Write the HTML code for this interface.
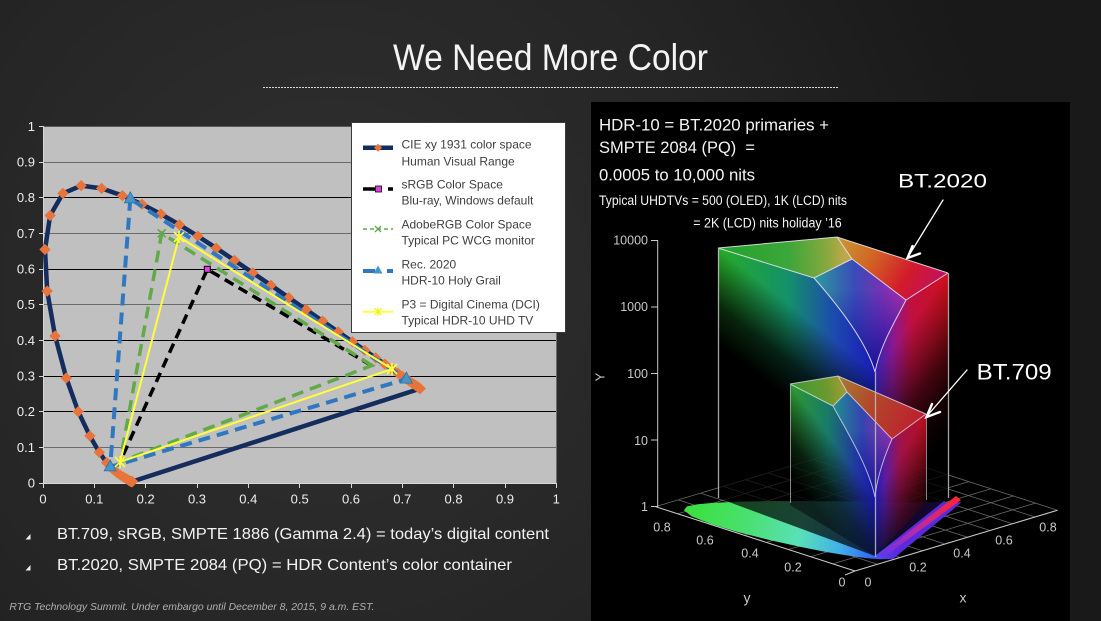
<!DOCTYPE html>
<html><head><meta charset="utf-8"><style>
html,body{margin:0;padding:0;background:#1c1c1c;}
svg{display:block;}
text{font-family:"Liberation Sans",Arial,sans-serif;}
</style></head><body>
<svg width="1101" height="621" viewBox="0 0 1101 621" xmlns="http://www.w3.org/2000/svg">
<defs>
<radialGradient id="bg" cx="330" cy="290" r="680" gradientUnits="userSpaceOnUse">
<stop offset="0" stop-color="#313131"/><stop offset="0.6" stop-color="#252525"/><stop offset="1" stop-color="#191919"/>
</radialGradient>
<path id="dm" d="M0 0.0157L0.0111 0L0 -0.0157L-0.0111 0Z" fill="#e8743b"/>

<linearGradient id="hL" gradientUnits="userSpaceOnUse" x1="718" y1="0" x2="875" y2="0">
<stop offset="0" stop-color="#26ac26"/><stop offset="0.45" stop-color="#14906a"/><stop offset="0.75" stop-color="#1c48b0"/><stop offset="1" stop-color="#1a1ab4"/>
</linearGradient>
<linearGradient id="fL" gradientUnits="userSpaceOnUse" x1="796.5" y1="310" x2="750" y2="368.9">
<stop offset="0" stop-color="#fff"/><stop offset="0.3" stop-color="#999"/><stop offset="0.6" stop-color="#3a3a3a"/><stop offset="1" stop-color="#000"/>
</linearGradient>
<mask id="mL" maskUnits="userSpaceOnUse" x="600" y="200" width="500" height="400"><rect x="600" y="200" width="500" height="400" fill="url(#fL)"/></mask>

<linearGradient id="hR" gradientUnits="userSpaceOnUse" x1="948" y1="0" x2="875" y2="0">
<stop offset="0" stop-color="#d0101c"/><stop offset="0.5" stop-color="#c01040"/><stop offset="0.75" stop-color="#8a1890"/><stop offset="1" stop-color="#3020b0"/>
</linearGradient>
<linearGradient id="fR" gradientUnits="userSpaceOnUse" x1="911.5" y1="322.5" x2="988" y2="378.8">
<stop offset="0" stop-color="#fff"/><stop offset="0.25" stop-color="#b0b0b0"/><stop offset="0.5" stop-color="#555"/><stop offset="0.75" stop-color="#1a1a1a"/><stop offset="1" stop-color="#000"/>
</linearGradient>
<mask id="mR" maskUnits="userSpaceOnUse" x="600" y="200" width="500" height="400"><rect x="600" y="200" width="500" height="400" fill="url(#fR)"/></mask>

<linearGradient id="gG1" gradientUnits="userSpaceOnUse" x1="718" y1="250" x2="845" y2="245">
<stop offset="0" stop-color="#22a22a"/><stop offset="0.55" stop-color="#3ca63a"/><stop offset="0.85" stop-color="#86a83e"/><stop offset="1" stop-color="#c0a84a"/>
</linearGradient>
<linearGradient id="gR1" gradientUnits="userSpaceOnUse" x1="837" y1="240" x2="935" y2="295">
<stop offset="0" stop-color="#c89a32"/><stop offset="0.35" stop-color="#d26424"/><stop offset="0.7" stop-color="#d21a2a"/><stop offset="1" stop-color="#c01060"/>
</linearGradient>
<linearGradient id="gB1" gradientUnits="userSpaceOnUse" x1="814" y1="0" x2="906" y2="0">
<stop offset="0" stop-color="#2a9c9c"/><stop offset="0.45" stop-color="#3a4ab8"/><stop offset="0.75" stop-color="#7a30b4"/><stop offset="1" stop-color="#b02ca4"/>
</linearGradient>
<linearGradient id="gB1v" gradientUnits="userSpaceOnUse" x1="0" y1="290" x2="0" y2="372">
<stop offset="0" stop-color="#1010a0" stop-opacity="0"/><stop offset="1" stop-color="#0c0c90" stop-opacity="0.9"/>
</linearGradient>

<linearGradient id="hL7" gradientUnits="userSpaceOnUse" x1="790" y1="0" x2="875" y2="0">
<stop offset="0" stop-color="#2e9a2e"/><stop offset="0.45" stop-color="#187a6a"/><stop offset="0.8" stop-color="#2034a4"/><stop offset="1" stop-color="#1818a8"/>
</linearGradient>
<linearGradient id="fL7" gradientUnits="userSpaceOnUse" x1="832.5" y1="440.5" x2="788.6" y2="473.6">
<stop offset="0" stop-color="#fff"/><stop offset="0.3" stop-color="#999"/><stop offset="0.6" stop-color="#3a3a3a"/><stop offset="1" stop-color="#000"/>
</linearGradient>
<mask id="mL7" maskUnits="userSpaceOnUse" x="600" y="200" width="500" height="400"><rect x="600" y="200" width="500" height="400" fill="url(#fL7)"/></mask>
<linearGradient id="hR7" gradientUnits="userSpaceOnUse" x1="926" y1="0" x2="875" y2="0">
<stop offset="0" stop-color="#b8101e"/><stop offset="0.5" stop-color="#a01248"/><stop offset="0.8" stop-color="#5a1ca0"/><stop offset="1" stop-color="#1c1cb0"/>
</linearGradient>
<linearGradient id="fR7" gradientUnits="userSpaceOnUse" x1="900.5" y1="455.5" x2="955.9" y2="489.6">
<stop offset="0" stop-color="#fff"/><stop offset="0.25" stop-color="#b0b0b0"/><stop offset="0.5" stop-color="#555"/><stop offset="0.75" stop-color="#1a1a1a"/><stop offset="1" stop-color="#000"/>
</linearGradient>
<mask id="mR7" maskUnits="userSpaceOnUse" x="600" y="200" width="500" height="400"><rect x="600" y="200" width="500" height="400" fill="url(#fR7)"/></mask>
<linearGradient id="gG17" gradientUnits="userSpaceOnUse" x1="790" y1="384" x2="840" y2="376">
<stop offset="0" stop-color="#3a9a30"/><stop offset="0.7" stop-color="#6a9a30"/><stop offset="1" stop-color="#9a9a34"/>
</linearGradient>
<linearGradient id="gR17" gradientUnits="userSpaceOnUse" x1="838" y1="378" x2="926" y2="420">
<stop offset="0" stop-color="#a87a34"/><stop offset="0.4" stop-color="#b04a2a"/><stop offset="1" stop-color="#c01a30"/>
</linearGradient>
<linearGradient id="gB17" gradientUnits="userSpaceOnUse" x1="833" y1="0" x2="892" y2="0">
<stop offset="0" stop-color="#209090"/><stop offset="0.5" stop-color="#3444b0"/><stop offset="1" stop-color="#9a30a8"/>
</linearGradient>
<linearGradient id="gB17v" gradientUnits="userSpaceOnUse" x1="0" y1="430" x2="0" y2="497">
<stop offset="0" stop-color="#1010a0" stop-opacity="0"/><stop offset="1" stop-color="#0c0c90" stop-opacity="0.9"/>
</linearGradient>

<linearGradient id="gHS" gradientUnits="userSpaceOnUse" x1="684" y1="508" x2="893" y2="559">
<stop offset="0" stop-color="#3ae03a"/><stop offset="0.3" stop-color="#4ae070"/><stop offset="0.55" stop-color="#5ae0b8"/><stop offset="0.75" stop-color="#40b0e8"/><stop offset="0.9" stop-color="#3468f0"/><stop offset="1" stop-color="#5a2ae0"/>
</linearGradient>
<linearGradient id="gPS" gradientUnits="userSpaceOnUse" x1="880" y1="557" x2="960" y2="499">
<stop offset="0" stop-color="#6a30f0"/><stop offset="0.4" stop-color="#b02cb0"/><stop offset="1" stop-color="#ff2430"/>
</linearGradient>
</defs>

<!-- background -->
<rect width="1101" height="621" fill="url(#bg)"/>

<!-- title -->
<text x="550.5" y="70" font-size="37" fill="#f4f4f4" text-anchor="middle" textLength="315" lengthAdjust="spacingAndGlyphs">We Need More Color</text>
<line x1="263" y1="87.5" x2="838" y2="87.5" stroke="#d8d8d8" stroke-width="1" stroke-dasharray="2 1"/>

<!-- ================= LEFT CHART ================= -->
<rect x="43" y="126" width="514" height="357.5" fill="#c0c0c0"/>
<g stroke-width="1">
<line x1="43" y1="447.5" x2="557" y2="447.5" stroke="#6b6b6b"/>
<line x1="43" y1="411.5" x2="557" y2="411.5" stroke="#000"/>
<line x1="43" y1="376.5" x2="557" y2="376.5" stroke="#000"/>
<line x1="43" y1="340.5" x2="557" y2="340.5" stroke="#000"/>
<line x1="43" y1="304.5" x2="557" y2="304.5" stroke="#6b6b6b"/>
<line x1="43" y1="269.5" x2="557" y2="269.5" stroke="#000"/>
<line x1="43" y1="233.5" x2="557" y2="233.5" stroke="#6b6b6b"/>
<line x1="43" y1="197.5" x2="557" y2="197.5" stroke="#000"/>
<line x1="43" y1="162.5" x2="557" y2="162.5" stroke="#6b6b6b"/>
<line x1="43" y1="126.5" x2="557" y2="126.5" stroke="#5a5a5a"/>
<line x1="556.5" y1="126" x2="556.5" y2="483" stroke="#6b6b6b"/>
</g>
<!-- axes -->
<g stroke="#d8d8d8" stroke-width="1">
<line x1="43.5" y1="126" x2="43.5" y2="484"/>
<line x1="39" y1="483.5" x2="557" y2="483.5"/>
<path d="M39 126.5H43M39 162.5H43M39 197.5H43M39 233.5H43M39 269.5H43M39 304.5H43M39 340.5H43M39 376.5H43M39 411.5H43M39 447.5H43"/>
<path d="M43.5 483V488M94.5 483V488M145.5 483V488M197.5 483V488M248.5 483V488M299.5 483V488M351.5 483V488M402.5 483V488M453.5 483V488M505.5 483V488M556.5 483V488"/>
</g>
<g font-size="13" fill="#eeeeee" text-anchor="end">
<text x="35" y="131">1</text>
<text x="35" y="166.5">0.9</text>
<text x="35" y="202">0.8</text>
<text x="35" y="238">0.7</text>
<text x="35" y="273.5">0.6</text>
<text x="35" y="309">0.5</text>
<text x="35" y="345">0.4</text>
<text x="35" y="380.5">0.3</text>
<text x="35" y="416">0.2</text>
<text x="35" y="452">0.1</text>
<text x="35" y="487.5">0</text>
</g>
<g font-size="13" fill="#eeeeee" text-anchor="middle">
<text x="43" y="503.5">0</text>
<text x="94.3" y="503.5">0.1</text>
<text x="145.7" y="503.5">0.2</text>
<text x="197" y="503.5">0.3</text>
<text x="248.3" y="503.5">0.4</text>
<text x="299.7" y="503.5">0.5</text>
<text x="351" y="503.5">0.6</text>
<text x="402.3" y="503.5">0.7</text>
<text x="453.6" y="503.5">0.8</text>
<text x="505" y="503.5">0.9</text>
<text x="556.3" y="503.5">1</text>
</g>

<!-- CIE locus in data coordinates -->
<g transform="translate(43,483.3) scale(513.3,-357)">
<polyline fill="none" stroke="#142c5e" stroke-width="4.5" stroke-linejoin="round" vector-effect="non-scaling-stroke"
points="0.1741,0.005 0.174,0.005 0.1738,0.0049 0.1736,0.0049 0.1733,0.0048 0.173,0.0048 0.1726,0.0048 0.1721,0.0048 0.1714,0.0051 0.1703,0.0058 0.1689,0.0069 0.1669,0.0086 0.1644,0.0109 0.1611,0.0138 0.1566,0.0177 0.151,0.0227 0.144,0.0297 0.1355,0.0399 0.1241,0.0578 0.1096,0.0868 0.0913,0.1327 0.0687,0.2007 0.0454,0.295 0.0235,0.4127 0.0082,0.5384 0.0039,0.6548 0.0139,0.7502 0.0389,0.812 0.0743,0.8338 0.1142,0.8262 0.1547,0.8059 0.1929,0.7816 0.2296,0.7543 0.2658,0.7243 0.3016,0.6923 0.3373,0.6589 0.3731,0.6245 0.4087,0.5896 0.4441,0.5547 0.4788,0.5202 0.5125,0.4866 0.5448,0.4544 0.5752,0.4242 0.6029,0.3965 0.627,0.3725 0.6482,0.3514 0.6658,0.334 0.6801,0.3197 0.6915,0.3083 0.7006,0.2993 0.7079,0.292 0.714,0.2859 0.719,0.2809 0.723,0.277 0.726,0.274 0.7283,0.2717 0.73,0.27 0.7311,0.2689 0.732,0.268 0.7327,0.2673 0.7334,0.2666 0.734,0.266 0.7344,0.2656 0.7346,0.2654 0.7347,0.2653 0.1741,0.005"/>
<use href="#dm" x="0.1741" y="0.005"/><use href="#dm" x="0.174" y="0.005"/><use href="#dm" x="0.1738" y="0.0049"/><use href="#dm" x="0.1736" y="0.0049"/>
<use href="#dm" x="0.1733" y="0.0048"/><use href="#dm" x="0.173" y="0.0048"/><use href="#dm" x="0.1726" y="0.0048"/><use href="#dm" x="0.1721" y="0.0048"/>
<use href="#dm" x="0.1714" y="0.0051"/><use href="#dm" x="0.1703" y="0.0058"/><use href="#dm" x="0.1689" y="0.0069"/><use href="#dm" x="0.1669" y="0.0086"/>
<use href="#dm" x="0.1644" y="0.0109"/><use href="#dm" x="0.1611" y="0.0138"/><use href="#dm" x="0.1566" y="0.0177"/><use href="#dm" x="0.151" y="0.0227"/>
<use href="#dm" x="0.144" y="0.0297"/><use href="#dm" x="0.1355" y="0.0399"/><use href="#dm" x="0.1241" y="0.0578"/><use href="#dm" x="0.1096" y="0.0868"/>
<use href="#dm" x="0.0913" y="0.1327"/><use href="#dm" x="0.0687" y="0.2007"/><use href="#dm" x="0.0454" y="0.295"/><use href="#dm" x="0.0235" y="0.4127"/>
<use href="#dm" x="0.0082" y="0.5384"/><use href="#dm" x="0.0039" y="0.6548"/><use href="#dm" x="0.0139" y="0.7502"/><use href="#dm" x="0.0389" y="0.812"/>
<use href="#dm" x="0.0743" y="0.8338"/><use href="#dm" x="0.1142" y="0.8262"/><use href="#dm" x="0.1547" y="0.8059"/><use href="#dm" x="0.1929" y="0.7816"/>
<use href="#dm" x="0.2296" y="0.7543"/><use href="#dm" x="0.2658" y="0.7243"/><use href="#dm" x="0.3016" y="0.6923"/><use href="#dm" x="0.3373" y="0.6589"/>
<use href="#dm" x="0.3731" y="0.6245"/><use href="#dm" x="0.4087" y="0.5896"/><use href="#dm" x="0.4441" y="0.5547"/><use href="#dm" x="0.4788" y="0.5202"/>
<use href="#dm" x="0.5125" y="0.4866"/><use href="#dm" x="0.5448" y="0.4544"/><use href="#dm" x="0.5752" y="0.4242"/><use href="#dm" x="0.6029" y="0.3965"/>
<use href="#dm" x="0.627" y="0.3725"/><use href="#dm" x="0.6482" y="0.3514"/><use href="#dm" x="0.6658" y="0.334"/><use href="#dm" x="0.6801" y="0.3197"/>
<use href="#dm" x="0.6915" y="0.3083"/><use href="#dm" x="0.7006" y="0.2993"/><use href="#dm" x="0.7079" y="0.292"/><use href="#dm" x="0.714" y="0.2859"/>
<use href="#dm" x="0.719" y="0.2809"/><use href="#dm" x="0.723" y="0.277"/><use href="#dm" x="0.726" y="0.274"/><use href="#dm" x="0.7283" y="0.2717"/>
<use href="#dm" x="0.73" y="0.27"/><use href="#dm" x="0.7311" y="0.2689"/><use href="#dm" x="0.732" y="0.268"/><use href="#dm" x="0.7327" y="0.2673"/>
<use href="#dm" x="0.7334" y="0.2666"/><use href="#dm" x="0.734" y="0.266"/><use href="#dm" x="0.7344" y="0.2656"/><use href="#dm" x="0.7346" y="0.2654"/>
<use href="#dm" x="0.7347" y="0.2653"/>
</g>

<!-- gamut triangles -->
<polyline points="371.5,365.5 207.3,269.3 120,461.9" fill="none" stroke="#000" stroke-width="3.5" stroke-dasharray="10 6"/>
<polygon points="372,365.5 161.7,233.3 120,461.9" fill="none" stroke="#62aa48" stroke-width="3.5" stroke-dasharray="12 7"/>
<polygon points="130.3,198.8 110.2,466.9 406.4,379.1" fill="none" stroke="#2f78c0" stroke-width="4" stroke-dasharray="12 7"/>
<polygon points="179,237 120,461.9 392,369" fill="none" stroke="#ffff3c" stroke-width="2"/>
<!-- markers -->
<g fill="#4596c8" stroke="#2f6fa8" stroke-width="0.8">
<polygon points="130.3,191.8 136.3,202.8 124.3,202.8"/>
<polygon points="110.2,459.9 116.2,470.9 104.2,470.9"/>
<polygon points="406.4,372.1 412.4,383.1 400.4,383.1"/>
</g>
<rect x="204.3" y="266.3" width="6" height="6" fill="#e040e0" stroke="#000" stroke-width="1"/>
<path d="M157.7 229.3L165.7 237.3M157.7 237.3L165.7 229.3" stroke="#5fa84a" stroke-width="1.6"/>
<g stroke="#ffff3c" stroke-width="1.6">
<path d="M174 232L184 242M174 242L184 232M179 231V243"/>
<path d="M115 457L125 467M115 467L125 457M120 456V468"/>
<path d="M387 364L397 374M387 374L397 364M392 363V375"/>
</g>

<!-- legend -->
<rect x="351.5" y="122.5" width="214" height="210" fill="#ffffff" stroke="#3a3a3a" stroke-width="1"/>
<line x1="363" y1="147.7" x2="393" y2="147.7" stroke="#142c5e" stroke-width="4.5"/>
<polygon points="378,143.7 382,147.7 378,151.7 374,147.7" fill="#e8743b"/>
<line x1="363" y1="189" x2="375" y2="189" stroke="#000" stroke-width="3.5"/>
<rect x="375.5" y="186" width="6" height="6" fill="#e040e0" stroke="#000" stroke-width="0.8"/>
<line x1="388" y1="189" x2="393" y2="189" stroke="#000" stroke-width="3.5"/>
<line x1="363" y1="229" x2="393" y2="229" stroke="#62aa48" stroke-width="1.5" stroke-dasharray="4 3"/>
<path d="M375 226L381 232M375 232L381 226" stroke="#62aa48" stroke-width="1.3"/>
<line x1="363" y1="271" x2="375" y2="271" stroke="#2f78c0" stroke-width="4"/>
<polygon points="378,265.5 382.5,273.5 373.5,273.5" fill="#4596c8"/>
<line x1="387" y1="271" x2="393" y2="271" stroke="#2f78c0" stroke-width="4"/>
<line x1="363" y1="311.7" x2="393" y2="311.7" stroke="#ffff3c" stroke-width="2"/>
<path d="M374.5 308.2L381.5 315.2M374.5 315.2L381.5 308.2M378 307.5V316" stroke="#f0f020" stroke-width="1.2"/>
<g font-size="12" fill="#404040">
<text x="401.5" y="148.6">CIE xy 1931 color space</text>
<text x="401.5" y="165.3">Human Visual Range</text>
<text x="401.5" y="188.6">sRGB Color Space</text>
<text x="401.5" y="204.3">Blu-ray, Windows default</text>
<text x="401.5" y="228.6">AdobeRGB Color Space</text>
<text x="401.5" y="244.3">Typical PC WCG monitor</text>
<text x="401.5" y="268.3">Rec. 2020</text>
<text x="401.5" y="284.3">HDR-10 Holy Grail</text>
<text x="401.5" y="308.6">P3 = Digital Cinema (DCI)</text>
<text x="401.5" y="324.3">Typical HDR-10 UHD TV</text>
</g>

<!-- bullets -->
<polygon points="25.5,539.5 30.5,539.5 30.5,534" fill="#f0f0f0"/>
<polygon points="25.5,570.5 30.5,570.5 30.5,565" fill="#f0f0f0"/>
<text x="57" y="539.2" font-size="16" fill="#f2f2f2" textLength="492" lengthAdjust="spacingAndGlyphs">BT.709, sRGB, SMPTE 1886 (Gamma 2.4) = today’s digital content</text>
<text x="57" y="570.2" font-size="16" fill="#f2f2f2" textLength="455" lengthAdjust="spacingAndGlyphs">BT.2020, SMPTE 2084 (PQ) = HDR Content’s color container</text>
<text x="9.4" y="610" font-size="10.5" font-style="italic" fill="#b0b0b0" textLength="365" lengthAdjust="spacingAndGlyphs">RTG Technology Summit. Under embargo until December 8, 2015, 9 a.m. EST.</text>

<!-- ================= RIGHT PANEL ================= -->
<rect x="591" y="102" width="479" height="519" fill="#000"/>
<g fill="#f4f4f4">
<text x="599" y="130.4" font-size="17" textLength="230" lengthAdjust="spacingAndGlyphs">HDR-10 = BT.2020 primaries +</text>
<text x="599" y="152.8" font-size="17" textLength="156" lengthAdjust="spacingAndGlyphs" style="white-space:pre">SMPTE 2084 (PQ)  =</text>
<text x="599" y="180.4" font-size="17" textLength="156" lengthAdjust="spacingAndGlyphs">0.0005 to 10,000 nits</text>
<text x="599" y="204.8" font-size="13.5" textLength="248" lengthAdjust="spacingAndGlyphs">Typical UHDTVs = 500 (OLED), 1K (LCD) nits</text>
<text x="693.3" y="227.5" font-size="13.5" textLength="148.4" lengthAdjust="spacingAndGlyphs">= 2K (LCD) nits holiday ’16</text>
</g>

<!-- base grid -->
<g stroke="#7a7a7a" stroke-width="0.8" opacity="0.85">
<line x1="855" y1="571" x2="655.7" y2="506.7"/>
<line x1="877.5" y1="564.25" x2="678.2" y2="499.9"/>
<line x1="900" y1="557.5" x2="700.7" y2="493.2"/>
<line x1="922.5" y1="550.75" x2="723.2" y2="486.4"/>
<line x1="945" y1="544" x2="745.7" y2="479.65"/>
<line x1="967.5" y1="537.25" x2="768.2" y2="472.9"/>
<line x1="990" y1="530.5" x2="790.7" y2="466.15"/>
<line x1="1012.5" y1="523.75" x2="813.2" y2="459.4"/>
<line x1="1035" y1="517" x2="835.7" y2="452.65"/>
<line x1="1057.5" y1="510.25" x2="858.2" y2="445.9"/>
<line x1="855" y1="571" x2="1057.5" y2="510.25"/>
<line x1="832.85" y1="563.85" x2="1035.35" y2="503.1"/>
<line x1="810.7" y1="556.7" x2="1013.2" y2="495.95"/>
<line x1="788.55" y1="549.55" x2="991.05" y2="488.8"/>
<line x1="766.4" y1="542.4" x2="968.9" y2="481.65"/>
<line x1="744.25" y1="535.25" x2="946.75" y2="474.5"/>
<line x1="722.1" y1="528.1" x2="924.6" y2="467.35"/>
<line x1="699.95" y1="520.95" x2="902.45" y2="460.2"/>
<line x1="677.8" y1="513.8" x2="880.3" y2="453.05"/>
<line x1="655.65" y1="506.65" x2="858.15" y2="445.9"/>
</g>
<g stroke="#c8c8c8" stroke-width="1">
<line x1="855" y1="571" x2="655.7" y2="506.7"/>
<line x1="855" y1="571" x2="1057.5" y2="510.25"/>
<line x1="855" y1="571" x2="845" y2="575"/>
<line x1="657.7" y1="240" x2="657.7" y2="507"/>
<path d="M651 240.5H658M651 307H658M651 373.5H658M651 440H658M651 506.5H658"/>
</g>
<g font-size="12.5" fill="#c8c8c8" text-anchor="end">
<text x="648" y="244.5">10000</text>
<text x="648" y="311">1000</text>
<text x="648" y="378">100</text>
<text x="648" y="445">10</text>
<text x="648" y="511">1</text>
</g>
<text x="0" y="4.5" font-size="13" fill="#c8c8c8" text-anchor="middle" transform="translate(600,377) rotate(-90)">Y</text>
<g font-size="12.5" fill="#c8c8c8" text-anchor="middle">
<text x="662" y="531.5">0.8</text>
<text x="705" y="544.5">0.6</text>
<text x="750" y="557.5">0.4</text>
<text x="793" y="571.5">0.2</text>
<text x="842" y="586.5">0</text>
<text x="868" y="586.5">0</text>
<text x="918" y="571.5">0.2</text>
<text x="962" y="557.5">0.4</text>
<text x="1004" y="544.5">0.6</text>
<text x="1048" y="531.5">0.8</text>
<text x="747" y="602.5" font-size="14">y</text>
<text x="963" y="602.5" font-size="14">x</text>
</g>

<!-- horseshoe -->
<polygon fill="url(#gHS)" points="893.1,558.9 880.8,559.2 870.1,558.5 860.5,557.4 846.1,555.3 826,552 799.9,546.8 768.9,539.9 737.5,532 710.9,523.9 691.9,516.5 683.9,510.3 687,506.4 697.7,504.2 711.3,503 739.6,501.6 769.6,501.1 800.6,501.1 832,501.3 862.5,501.6 890.4,501.9 913.6,502.1 942.3,502.3 961.5,502.4"/>

<!-- BT.2020 volume -->
<path d="M718,248 L814,278 C836,303 866,340 875,372 L875,556 L718,498 Z" fill="#000" fill-opacity="0.7"/>
<path d="M718,248 L814,278 C836,303 866,340 875,372 L875,556 L718,498 Z" fill="url(#hL)" mask="url(#mL)"/>
<path d="M948,273 L906,300 C897,318 880,345 875,372 L875,556 L948,498 Z" fill="#000" fill-opacity="0.8"/>
<path d="M948,273 L906,300 C897,318 880,345 875,372 L875,556 L948,498 Z" fill="url(#hR)" mask="url(#mR)"/>
<path d="M718,248 L837,237 L852,259 L814,278 Z" fill="url(#gG1)"/>
<path d="M837,237 L948,273 L906,300 L852,259 Z" fill="url(#gR1)"/>
<path d="M814,278 L852,259 L906,300 C897,318 880,345 875,372 C866,340 836,303 814,278 Z" fill="url(#gB1)"/>
<path d="M814,278 L852,259 L906,300 C897,318 880,345 875,372 C866,340 836,303 814,278 Z" fill="url(#gB1v)"/>

<!-- BT.709 volume -->
<path d="M790,384 L833,406 C846,430 868,465 875,497 L875,556 L790,505 Z" fill="#000" fill-opacity="0.45"/>
<path d="M790,384 L833,406 C846,430 868,465 875,497 L875,556 L790,505 Z" fill="url(#hL7)" mask="url(#mL7)"/>
<path d="M926,414 L892,439 C885,455 877,477 875,497 L875,556 L926,503 Z" fill="#000" fill-opacity="0.45"/>
<path d="M926,414 L892,439 C885,455 877,477 875,497 L875,556 L926,503 Z" fill="url(#hR7)" mask="url(#mR7)"/>
<path d="M790,384 L838,376 L847,392 L833,406 Z" fill="url(#gG17)"/>
<path d="M838,376 L926,414 L892,439 L847,392 Z" fill="url(#gR17)"/>
<path d="M833,406 L847,392 L892,439 C885,455 877,477 875,497 C868,465 846,430 833,406 Z" fill="url(#gB17)"/>
<path d="M833,406 L847,392 L892,439 C885,455 877,477 875,497 C868,465 846,430 833,406 Z" fill="url(#gB17v)"/>

<!-- purple line strip -->
<polygon points="877,556 884,557 961,500 956,496" fill="url(#gPS)"/>

<!-- edges 709 -->
<g stroke="#e4e4f0" stroke-width="1" fill="none" opacity="0.75">
<path d="M790,384 L838,376 L926,414"/>
<path d="M790,384 L833,406 L847,392 L838,376"/>
<path d="M847,392 L892,439 L926,414"/>
<path d="M833,406 C846,430 868,465 875,497"/>
<path d="M892,439 C885,455 877,477 875,497"/>
<path d="M790.5,384 V503 M926.5,414 V500" stroke="#b0b0b0"/>
</g>
<!-- edges 2020 -->
<g stroke="#ececf4" stroke-width="1" fill="none" opacity="0.85">
<path d="M718,248 L837,237 L948,273"/>
<path d="M718,248 L814,278 L852,259 L837,237"/>
<path d="M852,259 L906,300 L948,273"/>
<path d="M814,278 C836,303 866,340 875,372"/>
<path d="M906,300 C897,318 880,345 875,372"/>
<path d="M718.5,248 V498 M948.5,273 V498 M875.5,372 V557" stroke="#c0c0c0" stroke-width="1.3"/>
</g>

<!-- labels & arrows -->
<text x="898" y="187.5" font-size="19" fill="#ffffff" textLength="89" lengthAdjust="spacingAndGlyphs">BT.2020</text>
<text x="976.7" y="379.3" font-size="22" fill="#ffffff" textLength="75" lengthAdjust="spacingAndGlyphs">BT.709</text>
<g stroke="#ffffff" fill="none" stroke-linecap="round">
<line x1="943" y1="200" x2="908" y2="257" stroke-width="1.3"/>
<path d="M912.5,246 L907.5,258 L920,253.5" stroke-width="2.4"/>
<line x1="967" y1="370" x2="927" y2="416" stroke-width="1.3"/>
<path d="M932,404 L926.5,417 L940,412" stroke-width="2.4"/>
</g>
</svg>
</body></html>
